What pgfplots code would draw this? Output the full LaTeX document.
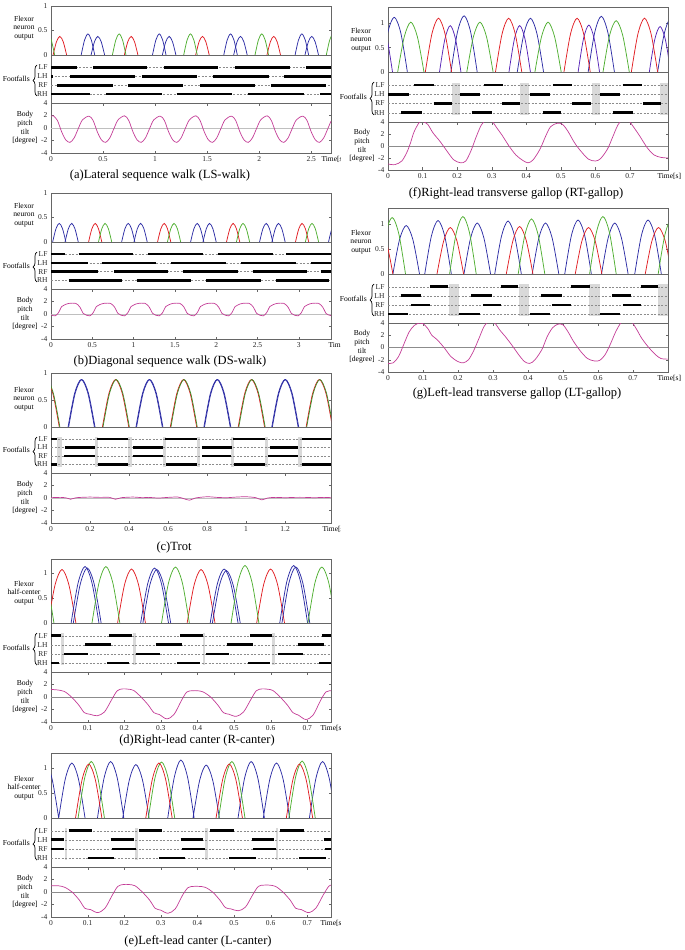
\documentclass[border=0pt]{standalone}
\usepackage{pgfplots}
\pgfplotsset{compat=1.18}
\usepackage{fontspec}
\setmainfont{Liberation Serif}
\usetikzlibrary{decorations.pathreplacing}
\definecolor{cred}{RGB}{225,30,35}
\definecolor{cblue}{RGB}{45,45,165}
\definecolor{cgreen}{RGB}{80,175,50}
\definecolor{cpit}{RGB}{195,60,150}
\newcommand\tk{\fontsize{7.5}{8.5}\selectfont}
\newcommand\lbl{\fontsize{7.6}{8.6}\selectfont}
\newcommand\capf{\fontsize{12.5}{14}\selectfont}
\pgfplotsset{
  base/.style={scale only axis, width=280pt, anchor=north west, xmin=0,
    axis line style={black!60, line width=0.5pt}, tick style={black!60},
    tick align=inside, major tick length=2.5pt,
    ticklabel style={font=\tk, text=black!85}, unbounded coords=jump},
  neur/.style={base, ymin=0, ytick={0,0.5,1}, yticklabels={0,0.5,1}, xtick=\empty},
  foot/.style={base, ymin=0, ymax=5.4, ytick={1,2,3,4}, yticklabels={RH,RF,LH,LF},
    xtick=\empty, major tick length=0pt},
  pit/.style={base, ymin=-4, ymax=4, ytick={-4,-2,0,2,4}, yticklabels={-4,-2,0,2,4}},
  arc/.style={smooth, line width=0.75pt},
  bar/.style={black, line width=2.6pt},
  dsh/.style={black!45, dash pattern=on 2pt off 1.5pt, line width=0.4pt},
  gry/.style={fill=black!15, draw=none},
  pline/.style={cpit, line width=0.7pt, smooth},
  zline/.style={black!45, line width=0.5pt},
}
% side labels: #1 x offset, #2 neuron label, #3 neuron mid, #4 foot top, #5 foot bottom, #6 pitch mid
\newcommand\sidelabels[6]{%
  \node[font=\lbl, align=center] at ({#1pt+24pt},{-#3pt}) {#2};
  \node[font=\lbl, anchor=east, inner sep=0pt] at ({#1pt+30pt},{-(#4pt+#5pt)/2}) {Footfalls};
  \draw[decorate, decoration={brace, amplitude=4pt}, line width=0.7pt]
    ({#1pt+37pt},{-#5pt+7pt}) -- ({#1pt+37pt},{-#4pt-10pt});
  \node[font=\lbl, align=center] at ({#1pt+25pt},{-#6pt}) {Body\\pitch\\tilt\\{[degree]}};
}
\begin{document}
\begin{tikzpicture}
\useasboundingbox (0,0) rectangle (685pt,-950pt);

%% ================= (a) LS-walk =================
\begin{axis}[neur, at={(51pt,-6pt)}, height=49pt, xmax=2.69, ymax=1]
\addplot[cgreen, line width=0.8pt] coordinates {(0,0)(2.69,0)};
\addplot[arc, cred] coordinates {(0.02,0)(0.0525,0.27)(0.085,0.38)(0.1175,0.27)(0.15,0)(nan,0)(0.705,0)(0.7375,0.27)(0.77,0.38)(0.8025,0.27)(0.835,0)(nan,0)(1.39,0)(1.4225,0.27)(1.455,0.38)(1.4875,0.27)(1.52,0)(nan,0)(2.075,0)(2.1075,0.27)(2.14,0.38)(2.1725,0.27)(2.205,0)};
\addplot[arc, cblue] coordinates {(0.29,0)(0.3225,0.305)(0.355,0.43)(0.3875,0.305)(0.42,0)(nan,0)(0.975,0)(1.0075,0.305)(1.04,0.43)(1.0725,0.305)(1.105,0)(nan,0)(1.66,0)(1.6925,0.305)(1.725,0.43)(1.7575,0.305)(1.79,0)(nan,0)(2.345,0)(2.3775,0.305)(2.41,0.43)(2.4425,0.305)(2.475,0)};
\addplot[arc, cblue] coordinates {(0.385,0)(0.4175,0.27)(0.45,0.38)(0.4825,0.27)(0.515,0)(nan,0)(1.07,0)(1.1025,0.27)(1.135,0.38)(1.1675,0.27)(1.2,0)(nan,0)(1.755,0)(1.7875,0.27)(1.82,0.38)(1.8525,0.27)(1.885,0)(nan,0)(2.44,0)(2.4725,0.27)(2.505,0.38)(2.5375,0.27)(2.57,0)};
\addplot[arc, cgreen] coordinates {(-0.095,0)(-0.0625,0.305)(-0.03,0.43)(0.0025,0.305)(0.035,0)(nan,0)(0.59,0)(0.6225,0.305)(0.655,0.43)(0.6875,0.305)(0.72,0)(nan,0)(1.275,0)(1.3075,0.305)(1.34,0.43)(1.3725,0.305)(1.405,0)(nan,0)(1.96,0)(1.9925,0.305)(2.025,0.43)(2.0575,0.305)(2.09,0)(nan,0)(2.645,0)(2.6775,0.305)(2.71,0.43)(2.7425,0.305)(2.775,0)};
\end{axis}
\begin{axis}[foot, at={(51pt,-55pt)}, height=48pt, xmax=2.69]
\addplot[dsh] coordinates {(0,1)(2.69,1)(nan,1)(0,2)(2.69,2)(nan,2)(0,3)(2.69,3)(nan,3)(0,4)(2.69,4)};
\addplot[bar] coordinates {(0,4)(0.253,4)(nan,4)(0.407,4)(0.926,4)(nan,4)(1.087,4)(1.609,4)(nan,4)(1.769,4)(2.298,4)(nan,4)(2.452,4)(2.69,4)};
\addplot[bar] coordinates {(0,3)(0.02,3)(nan,3)(0.183,3)(0.808,3)(nan,3)(0.872,3)(1.4,3)(nan,3)(1.554,3)(2.09,3)(nan,3)(2.24,3)(2.69,3)};
\addplot[bar] coordinates {(0.06,2)(0.593,2)(nan,2)(0.744,2)(1.272,2)(nan,2)(1.433,2)(1.96,2)(nan,2)(2.112,2)(2.644,2)};
\addplot[bar] coordinates {(0,1)(0.375,1)(nan,1)(0.529,1)(1.064,1)(nan,1)(1.208,1)(1.737,1)(nan,1)(1.888,1)(2.426,1)(nan,1)(2.587,1)(2.69,1)};
\end{axis}
\begin{axis}[pit, at={(51pt,-103pt)}, height=50pt, xmax=2.69, xtick={0,0.5,1,1.5,2,2.5}, xticklabels={0,0.5,1,1.5,2,2.5}]
\addplot[zline, black!25] coordinates {(0,0)(2.69,0)};
\addplot[pline] coordinates {(0,1.85)(0.022,1.95)(0.062,1.2)(0.102,-0.6)(0.142,-1.9)(0.182,-2.3)(0.222,-1.6)(0.262,-0.1)(0.302,1.3)(0.3645,1.9)(0.4045,1.2)(0.4445,-0.6)(0.4845,-1.9)(0.5245,-2.3)(0.5645,-1.6)(0.6045,-0.1)(0.6445,1.3)(0.707,1.95)(0.747,1.2)(0.787,-0.6)(0.827,-1.9)(0.867,-2.3)(0.907,-1.6)(0.947,-0.1)(0.987,1.3)(1.0495,1.9)(1.0895,1.2)(1.1295,-0.6)(1.1695,-1.9)(1.2095,-2.3)(1.2495,-1.6)(1.2895,-0.1)(1.3295,1.3)(1.392,1.95)(1.432,1.2)(1.472,-0.6)(1.512,-1.9)(1.552,-2.3)(1.592,-1.6)(1.632,-0.1)(1.672,1.3)(1.7345,1.9)(1.7745,1.2)(1.8145,-0.6)(1.8545,-1.9)(1.8945,-2.3)(1.9345,-1.6)(1.9745,-0.1)(2.0145,1.3)(2.077,1.95)(2.117,1.2)(2.157,-0.6)(2.197,-1.9)(2.237,-2.3)(2.277,-1.6)(2.317,-0.1)(2.357,1.3)(2.4195,1.9)(2.4595,1.2)(2.4995,-0.6)(2.5395,-1.9)(2.5795,-2.3)(2.6195,-1.6)(2.6595,-0.1)(2.69,1.1)};
\end{axis}
\sidelabels{0}{Flexor\\neuron\\output}{28}{55}{103}{128}
\node[font=\capf] at (160pt,-175pt) {(a)Lateral sequence walk (LS-walk)};

%% ================= (b) DS-walk =================
\begin{axis}[neur, at={(51pt,-193pt)}, height=49pt, xmax=3.39, ymax=1]
\addplot[cgreen, line width=0.8pt] coordinates {(0,0)(3.39,0)};
\addplot[arc, cblue] coordinates {(0.02,0)(0.06,0.27)(0.1,0.38)(0.14,0.27)(0.18,0)(nan,0)(0.855,0)(0.895,0.27)(0.935,0.38)(0.975,0.27)(1.015,0)(nan,0)(1.69,0)(1.73,0.27)(1.77,0.38)(1.81,0.27)(1.85,0)(nan,0)(2.525,0)(2.565,0.27)(2.605,0.38)(2.645,0.27)(2.685,0)(nan,0)(3.36,0)(3.4,0.27)(3.44,0.38)};
\addplot[arc, cblue] coordinates {(0.17,0)(0.21,0.27)(0.25,0.38)(0.29,0.27)(0.33,0)(nan,0)(1.005,0)(1.045,0.27)(1.085,0.38)(1.125,0.27)(1.165,0)(nan,0)(1.84,0)(1.88,0.27)(1.92,0.38)(1.96,0.27)(2.0,0)(nan,0)(2.675,0)(2.715,0.27)(2.755,0.38)(2.795,0.27)(2.835,0)};
\addplot[arc, cred] coordinates {(0.455,0)(0.495,0.27)(0.535,0.38)(0.575,0.27)(0.615,0)(nan,0)(1.29,0)(1.33,0.27)(1.37,0.38)(1.41,0.27)(1.45,0)(nan,0)(2.125,0)(2.165,0.27)(2.205,0.38)(2.245,0.27)(2.285,0)(nan,0)(2.96,0)(3.0,0.27)(3.04,0.38)(3.08,0.27)(3.12,0)};
\addplot[arc, cgreen] coordinates {(0.575,0)(0.615,0.27)(0.655,0.38)(0.695,0.27)(0.735,0)(nan,0)(1.41,0)(1.45,0.27)(1.49,0.38)(1.53,0.27)(1.57,0)(nan,0)(2.245,0)(2.285,0.27)(2.325,0.38)(2.365,0.27)(2.405,0)(nan,0)(3.08,0)(3.12,0.27)(3.16,0.38)(3.2,0.27)(3.24,0)};
\end{axis}
\begin{axis}[foot, at={(51pt,-242pt)}, height=47pt, xmax=3.39]
\addplot[dsh] coordinates {(0,1)(3.39,1)(nan,1)(0,2)(3.39,2)(nan,2)(0,3)(3.39,3)(nan,3)(0,4)(3.39,4)};
\addplot[bar] coordinates {(0,4)(0.173,4)(nan,4)(0.333,4)(0.996,4)(nan,4)(1.177,4)(1.839,4)(nan,4)(2.02,4)(2.683,4)(nan,4)(2.851,4)(3.39,4)};
\addplot[bar] coordinates {(0,3)(0.442,3)(nan,3)(0.614,3)(1.277,3)(nan,3)(1.458,3)(2.12,3)(nan,3)(2.301,3)(2.964,3)(nan,3)(3.145,3)(3.39,3)};
\addplot[bar] coordinates {(0,2)(0.574,2)(nan,2)(0.763,2)(1.418,2)(nan,2)(1.598,2)(2.261,2)(nan,2)(2.442,2)(3.104,2)(nan,2)(3.265,2)(3.39,2)};
\addplot[bar] coordinates {(0.213,1)(0.855,1)(nan,1)(1.036,1)(1.699,1)(nan,1)(1.88,1)(2.542,1)(nan,1)(2.723,1)(3.365,1)};
\end{axis}
\begin{axis}[pit, at={(51pt,-289pt)}, height=50pt, xmax=3.39, xtick={0,0.5,1,1.5,2,2.5,3}, xticklabels={0,0.5,1,1.5,2,2.5,3}]
\addplot[zline, black!25] coordinates {(0,0)(3.39,0)};
\addplot[pline] coordinates {(0,-0.15)(0.05,-0.3)(0.09,0.2)(0.13,1.2)(0.17,1.5)(0.22,1.7)(0.3,1.7)(0.35,1.1)(0.39,0.1)(0.43,-0.2)(0.47,-0.3)(0.51,0.2)(0.55,1.2)(0.59,1.5)(0.64,1.7)(0.72,1.7)(0.77,1.1)(0.81,0.1)(0.85,-0.2)(0.89,-0.3)(0.93,0.2)(0.97,1.2)(1.01,1.5)(1.06,1.7)(1.14,1.7)(1.19,1.1)(1.23,0.1)(1.27,-0.2)(1.31,-0.3)(1.35,0.2)(1.39,1.2)(1.43,1.5)(1.48,1.7)(1.56,1.7)(1.61,1.1)(1.65,0.1)(1.69,-0.2)(1.73,-0.3)(1.77,0.2)(1.81,1.2)(1.85,1.5)(1.9,1.7)(1.98,1.7)(2.03,1.1)(2.07,0.1)(2.11,-0.2)(2.15,-0.3)(2.19,0.2)(2.23,1.2)(2.27,1.5)(2.32,1.7)(2.4,1.7)(2.45,1.1)(2.49,0.1)(2.53,-0.2)(2.57,-0.3)(2.61,0.2)(2.65,1.2)(2.69,1.5)(2.74,1.7)(2.82,1.7)(2.87,1.1)(2.91,0.1)(2.95,-0.2)(2.99,-0.3)(3.03,0.2)(3.07,1.2)(3.11,1.5)(3.16,1.7)(3.24,1.7)(3.29,1.1)(3.33,0.1)(3.37,-0.2)(3.39,-0.25)};
\end{axis}
\sidelabels{0}{Flexor\\neuron\\output}{215}{242}{289}{314}
\node[font=\capf] at (170pt,-362pt) {(b)Diagonal sequence walk (DS-walk)};

%% ================= (c) Trot =================
\begin{axis}[neur, at={(51pt,-373pt)}, height=54pt, xmax=1.435, ymax=1]
\addplot[cgreen, line width=0.8pt] coordinates {(0,0)(1.435,0)};
\addplot[arc, cblue] coordinates {(0.0875,0)(0.121,0.625)(0.155,0.88)(0.189,0.625)(0.2225,0)(nan,0)(0.4355,0)(0.469,0.625)(0.503,0.88)(0.537,0.625)(0.5705,0)(nan,0)(0.7835,0)(0.817,0.625)(0.851,0.88)(0.885,0.625)(0.9185,0)(nan,0)(1.1315,0)(1.165,0.625)(1.199,0.88)(1.233,0.625)(1.2665,0)};
\addplot[arc, cblue] coordinates {(0.0905,0)(0.124,0.625)(0.158,0.88)(0.192,0.625)(0.2255,0)(nan,0)(0.4385,0)(0.472,0.625)(0.506,0.88)(0.54,0.625)(0.5735,0)(nan,0)(0.7865,0)(0.82,0.625)(0.854,0.88)(0.888,0.625)(0.9215,0)(nan,0)(1.1345,0)(1.168,0.625)(1.202,0.88)(1.236,0.625)(1.2695,0)};
\addplot[arc, cred] coordinates {(-0.0925,0)(-0.059,0.625)(-0.025,0.88)(0.009,0.625)(0.0425,0)(nan,0)(0.2635,0)(0.297,0.625)(0.331,0.88)(0.365,0.625)(0.3985,0)(nan,0)(0.6115,0)(0.645,0.625)(0.679,0.88)(0.713,0.625)(0.7465,0)(nan,0)(0.9595,0)(0.993,0.625)(1.027,0.88)(1.061,0.625)(1.0945,0)(nan,0)(1.3075,0)(1.341,0.625)(1.375,0.88)(1.409,0.625)(1.4425,0)};
\addplot[arc, cgreen!80!black] coordinates {(-0.0895,0)(-0.056,0.625)(-0.022,0.88)(0.012,0.625)(0.0455,0)(nan,0)(0.2665,0)(0.3,0.625)(0.334,0.88)(0.368,0.625)(0.4015,0)(nan,0)(0.6145,0)(0.648,0.625)(0.682,0.88)(0.716,0.625)(0.7495,0)(nan,0)(0.9625,0)(0.996,0.625)(1.03,0.88)(1.064,0.625)(1.0975,0)(nan,0)(1.3105,0)(1.344,0.625)(1.378,0.88)(1.412,0.625)(1.4455,0)};
\end{axis}
\begin{axis}[foot, at={(51pt,-427pt)}, height=46pt, xmax=1.435]
\addplot[gry] coordinates {(0.033,0.75)(0.054,0.75)(0.054,4.25)(0.033,4.25)} -- cycle;
\addplot[gry] coordinates {(0.226,0.75)(0.24,0.75)(0.24,4.25)(0.226,4.25)} -- cycle;
\addplot[gry] coordinates {(0.397,0.75)(0.414,0.75)(0.414,4.25)(0.397,4.25)} -- cycle;
\addplot[gry] coordinates {(0.573,0.75)(0.59,0.75)(0.59,4.25)(0.573,4.25)} -- cycle;
\addplot[gry] coordinates {(0.747,0.75)(0.764,0.75)(0.764,4.25)(0.747,4.25)} -- cycle;
\addplot[gry] coordinates {(0.92,0.75)(0.937,0.75)(0.937,4.25)(0.92,4.25)} -- cycle;
\addplot[gry] coordinates {(1.097,0.75)(1.114,0.75)(1.114,4.25)(1.097,4.25)} -- cycle;
\addplot[gry] coordinates {(1.268,0.75)(1.285,0.75)(1.285,4.25)(1.268,4.25)} -- cycle;
\addplot[dsh] coordinates {(0,1)(1.435,1)(nan,1)(0,2)(1.435,2)(nan,2)(0,3)(1.435,3)(nan,3)(0,4)(1.435,4)};
\addplot[bar] coordinates {(0,4)(0.03,4)(nan,4)(0.234,4)(0.397,4)(nan,4)(0.584,4)(0.747,4)(nan,4)(0.935,4)(1.097,4)(nan,4)(1.285,4)(1.435,4)};
\addplot[bar] coordinates {(0.072,3)(0.226,3)(nan,3)(0.422,3)(0.576,3)(nan,3)(0.773,3)(0.927,3)(nan,3)(1.12,3)(1.268,3)};
\addplot[bar] coordinates {(0.068,2)(0.226,2)(nan,2)(0.418,2)(0.573,2)(nan,2)(0.773,2)(0.92,2)(nan,2)(1.114,2)(1.268,2)};
\addplot[bar] coordinates {(0,1)(0.03,1)(nan,1)(0.24,1)(0.397,1)(nan,1)(0.59,1)(0.747,1)(nan,1)(0.937,1)(1.097,1)(nan,1)(1.285,1)(1.435,1)};
\end{axis}
\begin{axis}[pit, at={(51pt,-473pt)}, height=50pt, xmax=1.435, xtick={0,0.2,0.4,0.6,0.8,1,1.2}, xticklabels={0,0.2,0.4,0.6,0.8,1,1.2}]
\addplot[zline, black!25] coordinates {(0,0)(1.435,0)};
\addplot[pline] coordinates {(0,0.05)(0.05,0.1)(0.08,0.0)(0.1,-0.2)(0.13,0.05)(0.2,0.15)(0.25,0.1)(0.3,0.1)(0.33,-0.2)(0.36,0.05)(0.42,0.15)(0.47,0.05)(0.5,0.1)(0.55,0)(0.6,0.1)(0.65,0.15)(0.68,-0.1)(0.71,-0.35)(0.74,0)(0.8,0.2)(0.85,0.1)(0.9,0.05)(0.95,0.15)(1.0,0.2)(1.05,0.05)(1.08,-0.3)(1.11,0.0)(1.15,0.1)(1.2,0.05)(1.25,0.1)(1.3,0.1)(1.35,0.05)(1.4,0.1)(1.435,0.05)};
\end{axis}
\sidelabels{0}{Flexor\\neuron\\output}{399}{427}{473}{498}
\node[font=\capf] at (174pt,-547pt) {(c)Trot};

%% ================= (d) R-canter =================
\begin{axis}[neur, at={(51pt,-559pt)}, height=64pt, xmax=0.765, ymax=1.28]
\addplot[cgreen, line width=0.8pt] coordinates {(0,0)(0.765,0)};
\addplot[arc, cred] coordinates {(-0.008,0)(0.011,0.76)(0.03,1.07)(0.049,0.76)(0.068,0)(nan,0)(0.182,0)(0.201,0.77)(0.22,1.08)(0.239,0.77)(0.258,0)(nan,0)(0.372,0)(0.391,0.76)(0.41,1.07)(0.429,0.76)(0.448,0)(nan,0)(0.562,0)(0.581,0.77)(0.6,1.08)(0.619,0.77)(0.638,0)};
\addplot[arc, cblue] coordinates {(0.055,0)(0.074,0.8)(0.093,1.13)(0.112,0.8)(0.131,0)(nan,0)(0.245,0)(0.264,0.78)(0.283,1.1)(0.302,0.78)(0.321,0)(nan,0)(0.435,0)(0.454,0.77)(0.473,1.08)(0.492,0.77)(0.511,0)(nan,0)(0.625,0)(0.644,0.82)(0.663,1.15)(0.682,0.82)(0.701,0)};
\addplot[arc, cblue] coordinates {(0.061,0)(0.08,0.78)(0.099,1.1)(0.118,0.78)(0.137,0)(nan,0)(0.251,0)(0.27,0.76)(0.289,1.07)(0.308,0.76)(0.327,0)(nan,0)(0.441,0)(0.46,0.75)(0.479,1.05)(0.498,0.75)(0.517,0)(nan,0)(0.631,0)(0.65,0.8)(0.669,1.12)(0.688,0.8)(0.707,0)};
\addplot[arc, cgreen] coordinates {(-0.068,0)(-0.049,0.8)(-0.03,1.12)(-0.011,0.8)(0.008,0)(nan,0)(0.112,0)(0.131,0.8)(0.15,1.13)(0.169,0.8)(0.188,0)(nan,0)(0.302,0)(0.321,0.8)(0.34,1.12)(0.359,0.8)(0.378,0)(nan,0)(0.492,0)(0.511,0.82)(0.53,1.15)(0.549,0.82)(0.568,0)(nan,0)(0.702,0)(0.721,0.8)(0.74,1.12)(0.759,0.8)(0.778,0)};
\end{axis}
\begin{axis}[foot, at={(51pt,-623pt)}, height=49pt, xmax=0.765]
\addplot[gry] coordinates {(0.026,0.75)(0.035,0.75)(0.035,4.25)(0.026,4.25)} -- cycle;
\addplot[gry] coordinates {(0.225,0.75)(0.232,0.75)(0.232,4.25)(0.225,4.25)} -- cycle;
\addplot[gry] coordinates {(0.414,0.75)(0.422,0.75)(0.422,4.25)(0.414,4.25)} -- cycle;
\addplot[gry] coordinates {(0.605,0.75)(0.613,0.75)(0.613,4.25)(0.605,4.25)} -- cycle;
\addplot[dsh] coordinates {(0,1)(0.765,1)(nan,1)(0,2)(0.765,2)(nan,2)(0,3)(0.765,3)(nan,3)(0,4)(0.765,4)};
\addplot[bar] coordinates {(0,4)(0.026,4)(nan,4)(0.158,4)(0.222,4)(nan,4)(0.353,4)(0.414,4)(nan,4)(0.544,4)(0.605,4)(nan,4)(0.74,4)(0.765,4)};
\addplot[bar] coordinates {(0.094,3)(0.164,3)(nan,3)(0.286,3)(0.359,3)(nan,3)(0.48,3)(0.551,3)(nan,3)(0.674,3)(0.745,3)};
\addplot[bar] coordinates {(0.035,2)(0.1,2)(nan,2)(0.231,2)(0.297,2)(nan,2)(0.423,2)(0.487,2)(nan,2)(0.619,2)(0.688,2)};
\addplot[bar] coordinates {(0,1)(0.021,1)(nan,1)(0.153,1)(0.213,1)(nan,1)(0.345,1)(0.407,1)(nan,1)(0.539,1)(0.599,1)(nan,1)(0.733,1)(0.765,1)};
\end{axis}
\begin{axis}[pit, at={(51pt,-672pt)}, height=50pt, xmax=0.765, xtick={0,0.1,...,0.7}, xticklabels={0,0.1,0.2,0.3,0.4,0.5,0.6,0.7}]
\addplot[zline] coordinates {(0,0)(0.765,0)};
\addplot[pline] coordinates {(0,1.2)(0.015,1.15)(0.036,0.9)(0.056,0)(0.076,-1.3)(0.091,-2.5)(0.106,-2.75)(0.126,-3.0)(0.146,-2.4)(0.166,-0.4)(0.181,1.0)(0.196,1.3)(0.211,1.25)(0.226,1.05)(0.246,0)(0.266,-1.3)(0.281,-2.5)(0.296,-2.8)(0.316,-3.5)(0.336,-2.8)(0.356,-0.6)(0.371,0.8)(0.386,1.0)(0.401,1.0)(0.416,0.8)(0.436,0)(0.456,-1.3)(0.471,-2.5)(0.486,-2.75)(0.506,-3.1)(0.526,-2.4)(0.546,-0.4)(0.561,1.0)(0.576,1.3)(0.591,1.25)(0.606,1.05)(0.626,0)(0.646,-1.3)(0.661,-2.5)(0.676,-2.9)(0.696,-3.6)(0.716,-2.9)(0.736,-0.6)(0.751,0.8)(0.765,1.0)};
\end{axis}
\sidelabels{0}{Flexor\\half-center\\output}{593}{623}{672}{697}
\node[font=\capf] at (197pt,-741pt) {(d)Right-lead canter (R-canter)};

%% ================= (e) L-canter =================
\begin{axis}[neur, at={(51pt,-753pt)}, height=65pt, xmax=0.765, ymax=1.3]
\addplot[cgreen, line width=0.8pt] coordinates {(0,0)(0.765,0)};
\addplot[arc, cblue] coordinates {(-0.051,0)(-0.033,0.78)(-0.015,1.1)(0.003,0.78)(0.021,0)(nan,0)(0.021,0)(0.039,0.78)(0.057,1.1)(0.075,0.78)(0.093,0)(nan,0)(0.127,0)(0.145,0.8)(0.163,1.13)(0.181,0.8)(0.199,0)(nan,0)(0.196,0)(0.214,0.76)(0.232,1.07)(0.25,0.76)(0.268,0)(nan,0)(0.319,0)(0.337,0.82)(0.355,1.16)(0.373,0.82)(0.391,0)(nan,0)(0.388,0)(0.406,0.75)(0.424,1.06)(0.442,0.75)(0.46,0)(nan,0)(0.511,0)(0.529,0.8)(0.547,1.13)(0.565,0.8)(0.583,0)(nan,0)(0.58,0)(0.598,0.78)(0.616,1.1)(0.634,0.78)(0.652,0)(nan,0)(0.706,0)(0.724,0.8)(0.742,1.13)(0.76,0.8)(0.778,0)};
\addplot[arc, cgreen] coordinates {(0.074,0)(0.092,0.8)(0.11,1.13)(0.128,0.8)(0.146,0)(nan,0)(0.266,0)(0.284,0.8)(0.302,1.12)(0.32,0.8)(0.338,0)(nan,0)(0.458,0)(0.476,0.8)(0.494,1.13)(0.512,0.8)(0.53,0)(nan,0)(0.65,0)(0.668,0.81)(0.686,1.14)(0.704,0.81)(0.722,0)};
\addplot[arc, cred] coordinates {(0.067,0)(0.085,0.77)(0.103,1.08)(0.121,0.77)(0.139,0)(nan,0)(0.259,0)(0.277,0.78)(0.295,1.1)(0.313,0.78)(0.331,0)(nan,0)(0.451,0)(0.469,0.77)(0.487,1.08)(0.505,0.77)(0.523,0)(nan,0)(0.643,0)(0.661,0.77)(0.679,1.08)(0.697,0.77)(0.715,0)};
\end{axis}
\begin{axis}[foot, at={(51pt,-818pt)}, height=49pt, xmax=0.765]
\addplot[gry] coordinates {(0.037,0.75)(0.044,0.75)(0.044,4.25)(0.037,4.25)} -- cycle;
\addplot[gry] coordinates {(0.23,0.75)(0.237,0.75)(0.237,4.25)(0.23,4.25)} -- cycle;
\addplot[gry] coordinates {(0.422,0.75)(0.429,0.75)(0.429,4.25)(0.422,4.25)} -- cycle;
\addplot[gry] coordinates {(0.614,0.75)(0.621,0.75)(0.621,4.25)(0.614,4.25)} -- cycle;
\addplot[dsh] coordinates {(0,1)(0.765,1)(nan,1)(0,2)(0.765,2)(nan,2)(0,3)(0.765,3)(nan,3)(0,4)(0.765,4)};
\addplot[bar] coordinates {(0.048,4)(0.112,4)(nan,4)(0.24,4)(0.304,4)(nan,4)(0.435,4)(0.5,4)(nan,4)(0.626,4)(0.692,4)};
\addplot[bar] coordinates {(0,3)(0.035,3)(nan,3)(0.163,3)(0.226,3)(nan,3)(0.354,3)(0.416,3)(nan,3)(0.548,3)(0.61,3)(nan,3)(0.745,3)(0.765,3)};
\addplot[bar] coordinates {(0,2)(0.035,2)(nan,2)(0.167,2)(0.231,2)(nan,2)(0.358,2)(0.42,2)(nan,2)(0.553,2)(0.615,2)(nan,2)(0.748,2)(0.765,2)};
\addplot[bar] coordinates {(0.1,1)(0.172,1)(nan,1)(0.295,1)(0.365,1)(nan,1)(0.487,1)(0.56,1)(nan,1)(0.678,1)(0.752,1)};
\end{axis}
\begin{axis}[pit, at={(51pt,-867pt)}, height=50pt, xmax=0.765, xtick={0,0.1,...,0.7}, xticklabels={0,0.1,0.2,0.3,0.4,0.5,0.6,0.7}]
\addplot[zline] coordinates {(0,0)(0.765,0)};
\addplot[pline] coordinates {(0,1.0)(0.02,1.0)(0.0375,0.75)(0.0575,0)(0.0775,-1.3)(0.0925,-2.6)(0.1075,-2.8)(0.1275,-3.3)(0.1475,-2.6)(0.1675,-0.5)(0.1825,0.9)(0.1975,1.2)(0.2125,1.2)(0.2295,1.0)(0.2495,0)(0.2695,-1.3)(0.2845,-2.6)(0.2995,-2.9)(0.3195,-3.4)(0.3395,-2.7)(0.3595,-0.5)(0.3745,0.7)(0.3895,0.9)(0.4045,0.9)(0.4215,0.75)(0.4415,0)(0.4615,-1.3)(0.4765,-2.5)(0.4915,-2.7)(0.5115,-3.0)(0.5315,-2.4)(0.5515,-0.4)(0.5665,0.9)(0.5815,1.1)(0.5965,1.1)(0.6135,0.9)(0.6335,0)(0.6535,-1.3)(0.6685,-2.6)(0.6835,-2.8)(0.7035,-3.3)(0.7235,-2.6)(0.7435,-0.5)(0.7585,0.9)(0.765,1.1)};
\end{axis}
\sidelabels{0}{Flexor\\half-center\\output}{788}{818}{867}{892}
\node[font=\capf] at (198pt,-941pt) {(e)Left-lead canter (L-canter)};

%% ================= (f) RT-gallop =================
\begin{axis}[neur, at={(388pt,-7pt)}, height=65pt, xmax=0.81, ymax=1.33]
\addplot[cgreen, line width=0.8pt] coordinates {(0,0)(0.81,0)};
\addplot[arc, cblue] coordinates {(-0.02,0)(-0.001,0.8)(0.018,1.12)(0.037,0.8)(0.056,0)(nan,0)(0.182,0)(0.201,0.82)(0.22,1.15)(0.239,0.82)(0.258,0)(nan,0)(0.374,0)(0.393,0.78)(0.412,1.1)(0.431,0.78)(0.45,0)(nan,0)(0.579,0)(0.598,0.81)(0.617,1.14)(0.636,0.81)(0.655,0)(nan,0)(0.78,0)(0.799,0.78)(0.818,1.1)(0.837,0.78)(0.856,0)};
\addplot[arc, cblue!80!magenta] coordinates {(-0.049,0)(-0.0335,0.67)(-0.018,0.95)(-0.0025,0.67)(0.013,0)(nan,0)(0.149,0)(0.1645,0.67)(0.18,0.95)(0.1955,0.67)(0.211,0)(nan,0)(0.35,0)(0.3655,0.67)(0.381,0.95)(0.3965,0.67)(0.412,0)(nan,0)(0.55,0)(0.5655,0.68)(0.581,0.96)(0.5965,0.68)(0.612,0)(nan,0)(0.756,0)(0.7715,0.66)(0.787,0.93)(0.8025,0.66)(0.818,0)};
\addplot[arc, cgreen] coordinates {(0.028,0)(0.047,0.72)(0.066,1.02)(0.085,0.72)(0.104,0)(nan,0)(0.228,0)(0.247,0.72)(0.266,1.02)(0.285,0.72)(0.304,0)(nan,0)(0.425,0)(0.444,0.72)(0.463,1.02)(0.482,0.72)(0.501,0)(nan,0)(0.622,0)(0.641,0.75)(0.66,1.05)(0.679,0.75)(0.698,0)};
\addplot[arc, cred] coordinates {(0.108,0)(0.127,0.78)(0.146,1.1)(0.165,0.78)(0.184,0)(nan,0)(0.311,0)(0.33,0.78)(0.349,1.1)(0.368,0.78)(0.387,0)(nan,0)(0.509,0)(0.528,0.78)(0.547,1.1)(0.566,0.78)(0.585,0)(nan,0)(0.704,0)(0.723,0.78)(0.742,1.1)(0.761,0.78)(0.78,0)};
\end{axis}
\begin{axis}[foot, at={(388pt,-72pt)}, height=50pt, xmax=0.81]
\addplot[gry] coordinates {(0.184,0.75)(0.207,0.75)(0.207,4.25)(0.184,4.25)} -- cycle;
\addplot[gry] coordinates {(0.381,0.75)(0.408,0.75)(0.408,4.25)(0.381,4.25)} -- cycle;
\addplot[gry] coordinates {(0.59,0.75)(0.612,0.75)(0.612,4.25)(0.59,4.25)} -- cycle;
\addplot[gry] coordinates {(0.787,0.75)(0.81,0.75)(0.81,4.25)(0.787,4.25)} -- cycle;
\addplot[dsh] coordinates {(0,1)(0.81,1)(nan,1)(0,2)(0.81,2)(nan,2)(0,3)(0.81,3)(nan,3)(0,4)(0.81,4)};
\addplot[bar] coordinates {(0.076,4)(0.132,4)(nan,4)(0.278,4)(0.333,4)(nan,4)(0.477,4)(0.533,4)(nan,4)(0.679,4)(0.735,4)};
\addplot[bar] coordinates {(0,3)(0.061,3)(nan,3)(0.207,3)(0.266,3)(nan,3)(0.41,3)(0.47,3)(nan,3)(0.612,3)(0.67,3)};
\addplot[bar] coordinates {(0.132,2)(0.184,2)(nan,2)(0.331,2)(0.381,2)(nan,2)(0.533,2)(0.588,2)(nan,2)(0.739,2)(0.79,2)};
\addplot[bar] coordinates {(0.038,1)(0.098,1)(nan,1)(0.242,1)(0.3,1)(nan,1)(0.447,1)(0.501,1)(nan,1)(0.65,1)(0.708,1)};
\end{axis}
\begin{axis}[pit, at={(388pt,-122pt)}, height=48pt, xmax=0.81, xtick={0,0.1,...,0.7}, xticklabels={0,0.1,0.2,0.3,0.4,0.5,0.6,0.7}]
\addplot[zline] coordinates {(0,0)(0.81,0)};
\addplot[pline] coordinates {(0,-3.0)(0.02,-3.1)(0.04,-2.5)(0.055,-1)(0.065,0.5)(0.075,2.3)(0.09,3.9)(0.1,4.1)(0.115,3.6)(0.13,2.2)(0.15,0.8)(0.17,-0.8)(0.19,-2.3)(0.21,-2.8)(0.225,-2.5)(0.24,-0.8)(0.255,1.5)(0.27,3.5)(0.285,4.4)(0.3,4.2)(0.315,3.0)(0.33,1.8)(0.35,0)(0.37,-1.5)(0.39,-2.4)(0.405,-2.8)(0.42,-2.3)(0.44,-0.5)(0.455,1.5)(0.47,3.2)(0.49,3.8)(0.505,3.6)(0.52,2.5)(0.54,0.5)(0.56,-1)(0.58,-2.2)(0.6,-2.5)(0.615,-2.1)(0.635,-0.5)(0.65,1.5)(0.665,3.5)(0.68,4.5)(0.695,4.3)(0.71,3.2)(0.73,1.5)(0.75,-0.3)(0.77,-1.5)(0.79,-1.9)(0.81,-2.0)};
\end{axis}
\sidelabels{337}{Flexor\\neuron\\output}{40}{72}{122}{146}
\node[font=\capf] at (516pt,-193pt) {(f)Right-lead transverse gallop (RT-gallop)};

%% ================= (g) LT-gallop =================
\begin{axis}[neur, at={(388pt,-208pt)}, height=66pt, xmax=0.8, ymax=1.32]
\addplot[cgreen, line width=0.8pt] coordinates {(0,0)(0.8,0)};
\addplot[arc, cblue] coordinates {(0.105,0)(0.124,0.76)(0.143,1.07)(0.162,0.76)(0.181,0)(nan,0)(0.305,0)(0.324,0.75)(0.343,1.06)(0.362,0.75)(0.381,0)(nan,0)(0.505,0)(0.524,0.77)(0.543,1.08)(0.562,0.77)(0.581,0)(nan,0)(0.705,0)(0.724,0.77)(0.743,1.08)(0.762,0.77)(0.781,0)};
\addplot[arc, cblue] coordinates {(0.014,0)(0.033,0.69)(0.052,0.97)(0.071,0.69)(0.09,0)(nan,0)(0.217,0)(0.236,0.72)(0.255,1.02)(0.274,0.72)(0.293,0)(nan,0)(0.412,0)(0.431,0.72)(0.45,1.02)(0.469,0.72)(0.488,0)(nan,0)(0.61,0)(0.629,0.72)(0.648,1.02)(0.667,0.72)(0.686,0)};
\addplot[arc, cred] coordinates {(-0.062,0)(-0.043,0.66)(-0.024,0.93)(-0.005,0.66)(0.014,0)(nan,0)(0.14,0)(0.159,0.66)(0.178,0.93)(0.197,0.66)(0.216,0)(nan,0)(0.338,0)(0.357,0.67)(0.376,0.95)(0.395,0.67)(0.414,0)(nan,0)(0.535,0)(0.554,0.66)(0.573,0.93)(0.592,0.66)(0.611,0)(nan,0)(0.735,0)(0.754,0.66)(0.773,0.93)(0.792,0.66)(0.811,0)};
\addplot[arc, cgreen] coordinates {(-0.026,0)(-0.007,0.8)(0.012,1.13)(0.031,0.8)(0.05,0)(nan,0)(0.176,0)(0.195,0.82)(0.214,1.15)(0.233,0.82)(0.252,0)(nan,0)(0.372,0)(0.391,0.78)(0.41,1.1)(0.429,0.78)(0.448,0)(nan,0)(0.576,0)(0.595,0.82)(0.614,1.15)(0.633,0.82)(0.652,0)(nan,0)(0.772,0)(0.791,0.78)(0.81,1.1)(0.829,0.78)(0.848,0)};
\end{axis}
\begin{axis}[foot, at={(388pt,-274pt)}, height=49pt, xmax=0.8]
\addplot[gry] coordinates {(0.173,0.75)(0.202,0.75)(0.202,4.25)(0.173,4.25)} -- cycle;
\addplot[gry] coordinates {(0.373,0.75)(0.402,0.75)(0.402,4.25)(0.373,4.25)} -- cycle;
\addplot[gry] coordinates {(0.573,0.75)(0.605,0.75)(0.605,4.25)(0.573,4.25)} -- cycle;
\addplot[gry] coordinates {(0.771,0.75)(0.8,0.75)(0.8,4.25)(0.771,4.25)} -- cycle;
\addplot[dsh] coordinates {(0,1)(0.8,1)(nan,1)(0,2)(0.8,2)(nan,2)(0,3)(0.8,3)(nan,3)(0,4)(0.8,4)};
\addplot[bar] coordinates {(0.12,4)(0.171,4)(nan,4)(0.322,4)(0.371,4)(nan,4)(0.522,4)(0.576,4)(nan,4)(0.722,4)(0.771,4)};
\addplot[bar] coordinates {(0.036,3)(0.095,3)(nan,3)(0.238,3)(0.297,3)(nan,3)(0.438,3)(0.497,3)(nan,3)(0.64,3)(0.695,3)};
\addplot[bar] coordinates {(0.067,2)(0.119,2)(nan,2)(0.271,2)(0.324,2)(nan,2)(0.469,2)(0.522,2)(nan,2)(0.671,2)(0.724,2)};
\addplot[bar] coordinates {(0,1)(0.057,1)(nan,1)(0.202,1)(0.262,1)(nan,1)(0.405,1)(0.462,1)(nan,1)(0.605,1)(0.662,1)};
\end{axis}
\begin{axis}[pit, at={(388pt,-323pt)}, height=49pt, xmax=0.8, xtick={0,0.1,...,0.7}, xticklabels={0,0.1,0.2,0.3,0.4,0.5,0.6,0.7}]
\addplot[zline] coordinates {(0,0)(0.8,0)};
\addplot[pline] coordinates {(0,-2.6)(0.015,-2.5)(0.03,-1.5)(0.045,0.5)(0.06,2.5)(0.075,3.6)(0.09,4.0)(0.1,3.9)(0.115,3.0)(0.125,2.0)(0.14,1.3)(0.16,0)(0.18,-1.5)(0.2,-2.3)(0.215,-2.5)(0.23,-2.0)(0.245,-0.5)(0.26,1.5)(0.275,3.5)(0.29,4.3)(0.305,4.0)(0.32,2.8)(0.335,1.8)(0.355,0.3)(0.375,-1.3)(0.39,-2.3)(0.405,-2.6)(0.42,-2.0)(0.44,-0.3)(0.455,1.8)(0.47,3.2)(0.485,3.8)(0.5,3.7)(0.515,2.5)(0.53,1.0)(0.55,-0.6)(0.57,-1.8)(0.59,-2.2)(0.605,-2.1)(0.62,-1.2)(0.635,0.5)(0.65,2.5)(0.665,4.0)(0.68,4.6)(0.695,4.3)(0.71,3.0)(0.725,1.5)(0.745,0)(0.765,-1.2)(0.78,-1.8)(0.8,-1.9)};
\end{axis}
\sidelabels{337}{Flexor\\neuron\\output}{242}{274}{323}{347}
\node[font=\capf] at (517pt,-393pt) {(g)Left-lead transverse gallop (LT-gallop)};

%% Time labels
\begin{scope}
\clip (0,0) rectangle (340pt,-950pt);
\node[font=\tk, anchor=north west] at (318pt,-153pt) {Time[s]};
\node[font=\tk, anchor=north west] at (325pt,-339pt) {Time[s]};
\node[font=\tk, anchor=north west] at (319pt,-523pt) {Time[s]};
\node[font=\tk, anchor=north west] at (317pt,-722pt) {Time[s]};
\node[font=\tk, anchor=north west] at (317pt,-917pt) {Time[s]};
\end{scope}
\node[font=\tk, anchor=north west] at (654pt,-170pt) {Time[s]};
\node[font=\tk, anchor=north west] at (654pt,-372pt) {Time[s]};
\end{tikzpicture}
\end{document}
